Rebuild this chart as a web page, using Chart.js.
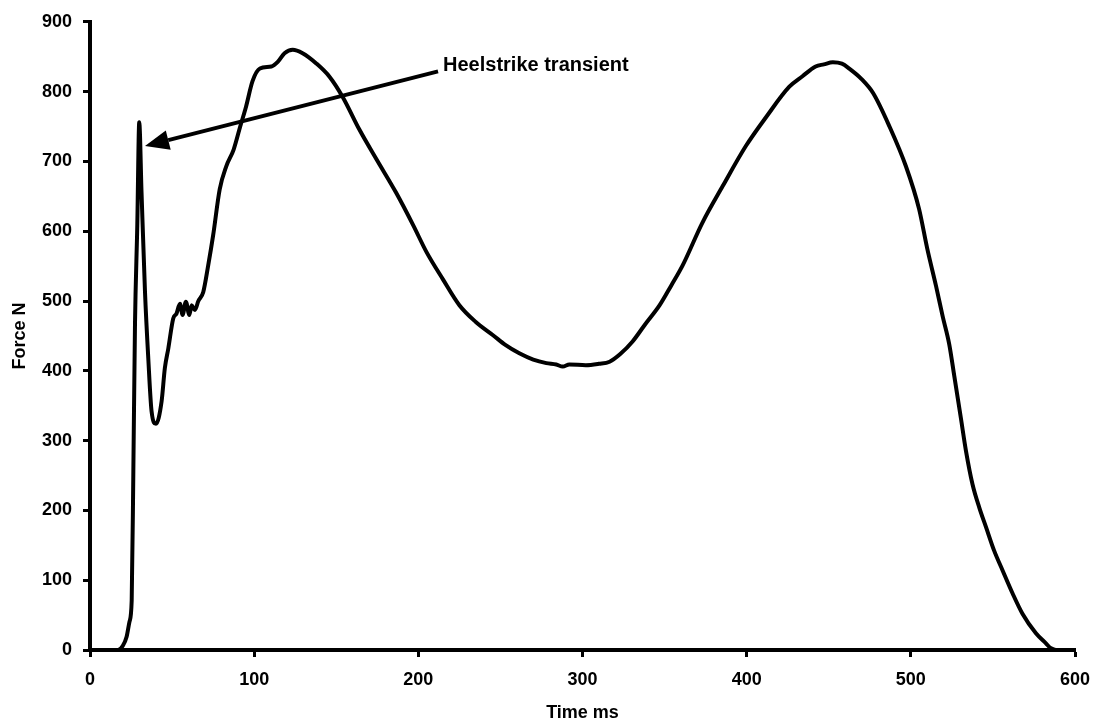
<!DOCTYPE html>
<html>
<head>
<meta charset="utf-8">
<title>Force N vs Time ms</title>
<script src="https://cdn.jsdelivr.net/npm/chart.js@4/dist/chart.umd.min.js"></script>
<style>
  html, body { margin: 0; padding: 0; background: #fff; }
  #chart { display: block; }
</style>
</head>
<body>
<canvas id="chart" width="1096" height="724"></canvas>
<script>
// --- data ---
const timeMs = [0, 10, 17, 20, 22.3, 24, 25.4, 26.4, 27.4, 28.8, 30, 31.4, 33.5, 35.5, 37.5, 40.2,
  43.6, 45.6, 47.7, 50.7, 52.7, 54.8, 56.4, 58.4, 60.5, 61.9, 63.9, 66, 69, 72, 75, 79, 83, 87.5,
  91.5, 95, 99, 103.5, 110.5, 114.5, 118.5, 123.5, 129.5, 138, 146, 154, 164, 174.5, 186.5, 197,
  205, 215, 225, 235, 245.5, 253, 261.5, 270, 278, 284, 288, 292, 302, 310, 316.5, 323, 330.5,
  338, 347, 354, 361, 373, 385.5, 399.5, 412, 426, 434, 442, 447, 452.5, 458, 462.5, 470, 477,
  487, 497, 505, 510, 515.3, 519.4, 523.4, 526.5, 530.5, 533.6, 537.6, 541.7, 545.8, 550.8,
  555.9, 562, 568, 576.2, 582.3, 585, 588];
const forceN = [0, 0, 0, 6, 19, 40, 71, 256, 466, 608, 756, 655, 513, 418, 342, 324,
  356, 404, 432, 475, 482, 496, 480, 499, 480, 494, 487, 500, 513, 551, 594, 660, 693, 717,
  750, 778, 815, 833, 836, 843, 855, 860, 855, 840, 821, 792, 746, 703, 655, 608,
  570, 531, 494, 470, 451, 437, 425, 416, 411, 409, 406, 409, 408, 410, 413, 424, 442,
  466, 494, 522, 551, 612, 665, 722, 764, 807, 822, 836, 839, 842, 840, 833, 818, 798,
  750, 693, 632, 575, 522, 478, 438, 392, 332, 285, 237, 204, 176, 142,
  114, 81, 52, 24, 9.5, 3, 0];

const xTicks = [0, 100, 200, 300, 400, 500, 600];
const yTicks = [0, 100, 200, 300, 400, 500, 600, 700, 800, 900];

// annotation: arrow from label to the heelstrike peak (data units)
const noteText = 'Heelstrike transient';
const arrowTail = [212, 829];
const arrowTip = [33.5, 722];

const FONT = '"Liberation Sans", Arial, sans-serif';

const points = timeMs.map((t, i) => ({ x: t, y: forceN[i] }));

// arrow + label drawn on top of the plot
const annotation = {
  id: 'heelNote',
  afterDatasetsDraw(chart) {
    const { ctx, scales: { x, y } } = chart;
    const x0 = x.getPixelForValue(arrowTail[0]), y0 = y.getPixelForValue(arrowTail[1]);
    const x1 = x.getPixelForValue(arrowTip[0]), y1 = y.getPixelForValue(arrowTip[1]);
    const ang = Math.atan2(y1 - y0, x1 - x0);
    const headLen = 24, headHalf = 10;
    const bx = x1 - headLen * Math.cos(ang), by = y1 - headLen * Math.sin(ang);

    ctx.save();
    ctx.strokeStyle = '#000';
    ctx.fillStyle = '#000';
    ctx.lineWidth = 4;
    ctx.beginPath();
    ctx.moveTo(x0, y0);
    ctx.lineTo(bx, by);
    ctx.stroke();

    ctx.beginPath();
    ctx.moveTo(x1, y1);
    ctx.lineTo(bx + headHalf * Math.sin(ang), by - headHalf * Math.cos(ang));
    ctx.lineTo(bx - headHalf * Math.sin(ang), by + headHalf * Math.cos(ang));
    ctx.closePath();
    ctx.fill();

    ctx.font = 'bold 20px ' + FONT;
    ctx.textAlign = 'left';
    ctx.textBaseline = 'middle';
    ctx.fillText(noteText, x0 + 5, y0 - 6);
    ctx.restore();
  }
};

new Chart(document.getElementById('chart'), {
  type: 'line',
  data: {
    datasets: [{
      data: points,
      borderColor: '#000',
      borderWidth: 4,
      pointRadius: 0,
      fill: false,
      cubicInterpolationMode: 'monotone'
    }]
  },
  options: {
    responsive: false,
    animation: false,
    events: [],
    layout: { padding: { top: 19, right: 21, left: 0, bottom: 0 } },
    plugins: { legend: { display: false }, tooltip: { enabled: false } },
    scales: {
      x: {
        type: 'linear',
        min: 0,
        max: 600,
        afterBuildTicks: (s) => { s.ticks = xTicks.map(v => ({ value: v })); },
        // fixed height, and let the layout padding alone decide the right edge
        afterFit: (s) => { s.height = 74; s.paddingLeft = 0; s.paddingRight = 0; },
        border: { display: true, color: '#000', width: 4 },
        grid: { drawOnChartArea: false, drawTicks: true, tickLength: 7, tickWidth: 3, tickColor: '#000' },
        ticks: { color: '#000', padding: 12, maxRotation: 0, font: { family: FONT, size: 18, weight: 'bold' } },
        title: { display: true, text: 'Time ms', color: '#000', padding: { top: 0, bottom: 0 },
          font: { family: FONT, size: 18, weight: 'bold' } }
      },
      y: {
        min: 0,
        max: 900,
        afterBuildTicks: (s) => { s.ticks = yTicks.map(v => ({ value: v })); },
        afterFit: (s) => { s.width = 90; },
        border: { display: true, color: '#000', width: 4 },
        grid: { drawOnChartArea: false, drawTicks: true, tickLength: 7, tickWidth: 3, tickColor: '#000' },
        ticks: { color: '#000', padding: 11, font: { family: FONT, size: 18, weight: 'bold' } },
        title: { display: true, text: 'Force N', color: '#000', padding: { top: 9, bottom: 0 },
          font: { family: FONT, size: 18, weight: 'bold' } }
      }
    }
  },
  plugins: [annotation]
});
</script>
</body>
</html>
